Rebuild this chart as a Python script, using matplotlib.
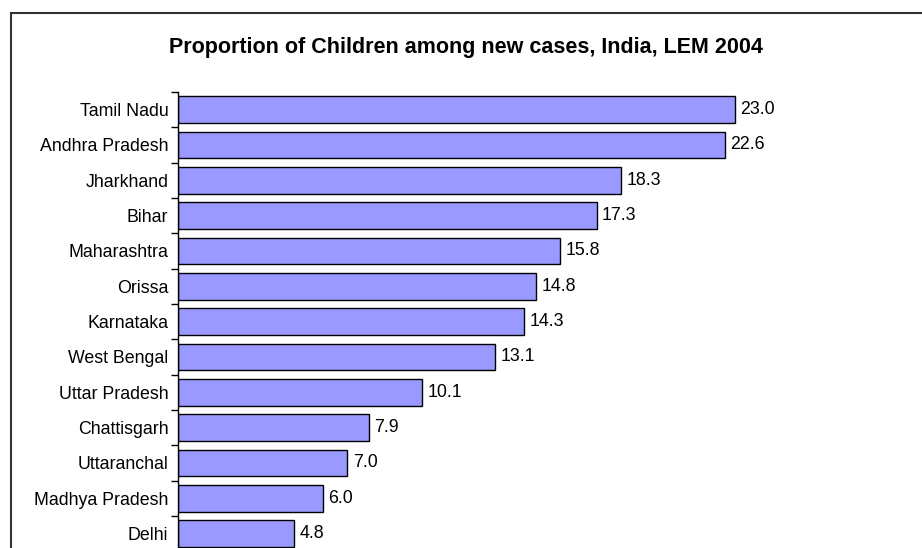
import numpy as np
import matplotlib
matplotlib.use("Agg")
from matplotlib import pyplot as plt
from matplotlib.patches import Rectangle

plt.rcParams['font.family'] = ['Liberation Sans', 'DejaVu Sans']

states = ['Tamil Nadu', 'Andhra Pradesh', 'Jharkhand', 'Bihar', 'Maharashtra',
          'Orissa', 'Karnataka', 'West Bengal', 'Uttar Pradesh', 'Chattisgarh',
          'Uttaranchal', 'Madhya Pradesh', 'Delhi']
child_pct = [23.0, 22.6, 18.3, 17.3, 15.8, 14.8, 14.3, 13.1, 10.1, 7.9, 7.0, 6.0, 4.8]

W, H = 922, 548
fig = plt.figure(figsize=(W / 100, H / 100), dpi=100)

# chart frame (runs off the bottom and right of the image)
fig.patches.append(Rectangle((11 / W, -0.1), 1.2, (H - 13) / H + 0.1,
                             transform=fig.transFigure, fill=False,
                             edgecolor='#333333', linewidth=1.5))

step = 35.33
top = 92
n_rows = 14
ax = fig.add_axes([178 / W, (H - top - n_rows * step) / H, 605 / W, n_rows * step / H])

y = np.arange(len(states))
ax.barh(y, child_pct, height=0.76, color='#9999FF', edgecolor='black', linewidth=1)
for yi, v in zip(y, child_pct):
    ax.text(v + 0.22, yi, f'{v:.1f}', va='center', ha='left', fontsize=12.8)

ax.set_xlim(0, 25)
ax.set_ylim(n_rows - 0.5, -0.5)
ax.set_yticks(y)
ax.set_yticklabels(states, fontsize=12.8)
ax.tick_params(axis='y', which='major', length=0, pad=7)
ax.set_yticks(np.arange(-0.5, n_rows, 1), minor=True)
ax.tick_params(axis='y', which='minor', length=5, width=1)
for s in ['top', 'right', 'bottom']:
    ax.spines[s].set_visible(False)
ax.spines['left'].set_linewidth(1)
ax.set_xticks([])

fig.text(466 / W, 1 - 48 / H, 'Proportion of Children among new cases, India, LEM 2004',
         ha='center', va='center', fontsize=15.5, fontweight='bold')

fig.savefig('out.png', dpi=100)
